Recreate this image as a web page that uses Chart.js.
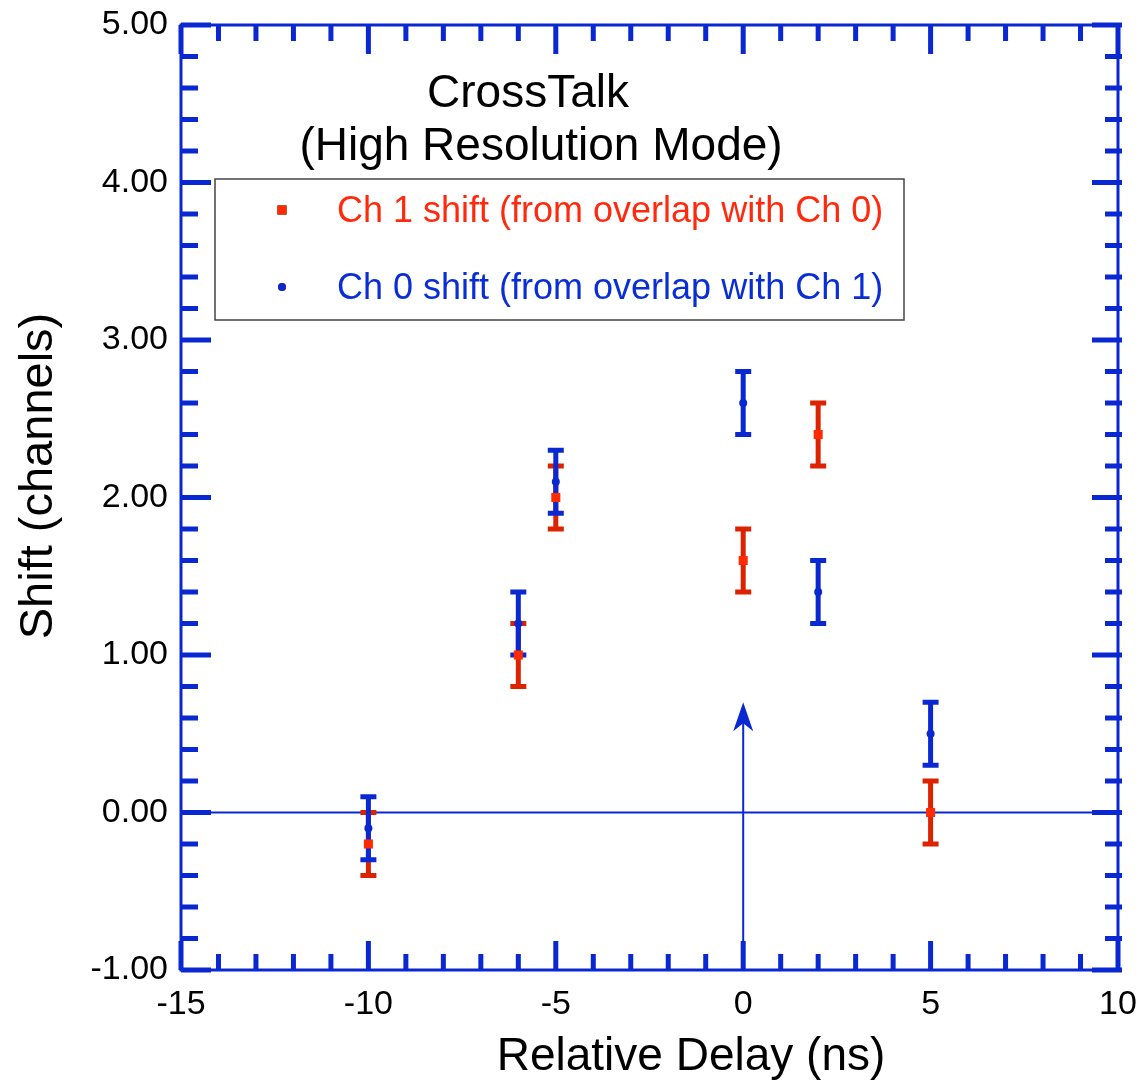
<!DOCTYPE html>
<html>
<head>
<meta charset="utf-8">
<title>CrossTalk</title>
<script src="https://cdn.jsdelivr.net/npm/chart.js@4.4.1/dist/chart.umd.min.js"></script>
<style>
  html, body { margin: 0; padding: 0; background: #fff; }
  #wrap { width: 1144px; height: 1082px; }
</style>
</head>
<body>
<div id="wrap"><canvas id="crossTalk"></canvas></div>
<script>
// shift vs. relative delay, both channels
var delays = [-10, -6, -5, 0, 2, 5];
var ch1Shift = [-0.2, 1.0, 2.0, 1.6, 2.4, 0.0];
var ch1Err = [0.2, 0.2, 0.2, 0.2, 0.2, 0.2];
var ch0Shift = [-0.1, 1.2, 2.1, 2.6, 1.4, 0.5];
var ch0Err = [0.2, 0.2, 0.2, 0.2, 0.2, 0.2];

// axis ticks
var xTicks = [-15, -10, -5, 0, 5, 10];
var yTicks = [-1, 0, 1, 2, 3, 4, 5];
var xMinorStep = 1;
var yMinorStep = 0.2;

// annotation arrow (x position, tip height)
var arrowX = 0;
var arrowTip = 0.7;

var titleLines = ['CrossTalk', '(High Resolution Mode)'];

var BLUE = '#0A28D2';
var FONT = "'Liberation Sans', Arial, Helvetica, sans-serif";

// zero line + arrow, under the data
var refLines = {
  id: 'refLines',
  beforeDatasetsDraw: function (chart) {
    var ctx = chart.ctx, a = chart.chartArea;
    var xs = chart.scales.x, ys = chart.scales.y;
    var y0 = ys.getPixelForValue(0);
    ctx.save();
    ctx.strokeStyle = BLUE;
    ctx.fillStyle = BLUE;
    ctx.lineWidth = 2;
    ctx.beginPath();
    ctx.moveTo(a.left, y0);
    ctx.lineTo(a.right, y0);
    ctx.stroke();
    var ax = xs.getPixelForValue(arrowX), tip = ys.getPixelForValue(arrowTip);
    ctx.beginPath();
    ctx.moveTo(ax, a.bottom);
    ctx.lineTo(ax, tip + 12);
    ctx.stroke();
    ctx.beginPath();
    ctx.moveTo(ax, tip);
    ctx.lineTo(ax + 10, tip + 29);
    ctx.lineTo(ax, tip + 21);
    ctx.lineTo(ax - 10, tip + 29);
    ctx.closePath();
    ctx.fill();
    ctx.restore();
  }
};

// vertical error bars with caps
var errorBars = {
  id: 'errorBars',
  beforeDatasetsDraw: function (chart) {
    var ctx = chart.ctx;
    var xs = chart.scales.x, ys = chart.scales.y;
    ctx.save();
    chart.data.datasets.forEach(function (ds) {
      ctx.strokeStyle = ds.barColor;
      ctx.lineWidth = 5;
      ds.data.forEach(function (p, i) {
        var x = xs.getPixelForValue(p.x);
        var hi = ys.getPixelForValue(p.y + ds.errors[i]);
        var lo = ys.getPixelForValue(p.y - ds.errors[i]);
        ctx.beginPath();
        ctx.moveTo(x, hi);
        ctx.lineTo(x, lo);
        ctx.moveTo(x - 8, hi);
        ctx.lineTo(x + 8, hi);
        ctx.moveTo(x - 8, lo);
        ctx.lineTo(x + 8, lo);
        ctx.stroke();
      });
    });
    ctx.restore();
  }
};

// boxed frame with inward ticks on all four sides
var frame = {
  id: 'frame',
  afterDraw: function (chart) {
    var ctx = chart.ctx, a = chart.chartArea;
    var xs = chart.scales.x, ys = chart.scales.y;
    ctx.save();
    ctx.strokeStyle = BLUE;
    ctx.lineWidth = 3;
    ctx.strokeRect(a.left, a.top, a.right - a.left, a.bottom - a.top);
    ctx.lineWidth = 5;
    var v, x, y, len, major;
    for (v = xTicks[0]; v <= xTicks[xTicks.length - 1] + 1e-9; v += xMinorStep) {
      major = xTicks.indexOf(Math.round(v)) >= 0;
      len = major ? 29 : 16;
      x = xs.getPixelForValue(v);
      ctx.beginPath();
      ctx.moveTo(x, a.top); ctx.lineTo(x, a.top + len);
      ctx.moveTo(x, a.bottom); ctx.lineTo(x, a.bottom - len);
      ctx.stroke();
    }
    var n = Math.round((yTicks[yTicks.length - 1] - yTicks[0]) / yMinorStep);
    for (var k = 0; k <= n; k++) {
      v = yTicks[0] + k * yMinorStep;
      major = k % Math.round(1 / yMinorStep) === 0;
      len = major ? 30 : 17;
      y = ys.getPixelForValue(v);
      ctx.beginPath();
      ctx.moveTo(a.left, y); ctx.lineTo(a.left + len, y);
      ctx.moveTo(a.right + 4, y); ctx.lineTo(a.right - len + 4, y);
      ctx.stroke();
    }
    ctx.restore();
  }
};

// title, axis titles and boxed legend inside the plot
var labels = {
  id: 'labels',
  afterDraw: function (chart) {
    var ctx = chart.ctx;
    ctx.save();
    ctx.fillStyle = '#000';
    ctx.textAlign = 'center';
    ctx.textBaseline = 'alphabetic';
    ctx.font = '46px ' + FONT;
    ctx.fillText(titleLines[0], 528, 107);
    ctx.fillText(titleLines[1], 541, 160);

    ctx.fillText('Relative Delay (ns)', 691, 1070);
    ctx.save();
    ctx.translate(52, 476);
    ctx.rotate(-Math.PI / 2);
    ctx.font = '47px ' + FONT;
    ctx.fillText('Shift (channels)', 0, 0);
    ctx.restore();

    // legend box
    ctx.strokeStyle = '#444';
    ctx.lineWidth = 1.5;
    ctx.strokeRect(215, 179, 689, 141);
    ctx.textAlign = 'left';
    ctx.font = '36px ' + FONT;
    var rows = [222, 299];
    chart.data.datasets.forEach(function (ds, i) {
      Chart.helpers.drawPoint(ctx, {
        pointStyle: ds.pointStyle, radius: ds.pointRadius, rotation: 0, borderWidth: 0
      }, 282, rows[i] - 12);
      ctx.fillStyle = ds.backgroundColor;
      ctx.fill();
      ctx.fillStyle = ds.textColor;
      ctx.fillText(ds.label, 337, rows[i]);
    });
    ctx.restore();
  }
};

function points(xv, yv) {
  return xv.map(function (x, i) { return { x: x, y: yv[i] }; });
}

// keep the plot box fixed; labels may overhang into the margins
function noOverhang(s) {
  s.paddingTop = 0;
  s.paddingBottom = 0;
  s.paddingLeft = 0;
  s.paddingRight = 0;
}

var ctx1 = document.getElementById('crossTalk');
var crossTalkChart = new Chart(ctx1, {
  type: 'scatter',
  data: {
    datasets: [{
      label: 'Ch 1 shift (from overlap with Ch 0)',
      data: points(delays, ch1Shift),
      errors: ch1Err,
      pointStyle: 'rect',
      pointRadius: 6.4,
      backgroundColor: '#FF2A00',
      borderWidth: 0,
      barColor: '#DD2200',
      textColor: '#FF2A0E'
    }, {
      label: 'Ch 0 shift (from overlap with Ch 1)',
      data: points(delays, ch0Shift),
      errors: ch0Err,
      pointStyle: 'circle',
      pointRadius: 4,
      backgroundColor: '#0A28D2',
      borderWidth: 0,
      barColor: '#0A28D2',
      textColor: '#0A2ED6'
    }]
  },
  options: {
    responsive: true,
    maintainAspectRatio: false,
    animation: false,
    layout: {
      padding: { top: 25, right: 26, left: 0, bottom: 0 }
    },
    plugins: {
      legend: { display: false },
      tooltip: { enabled: false }
    },
    scales: {
      x: {
        type: 'linear',
        min: -15,
        max: 10,
        grid: { display: false, drawTicks: false },
        border: { display: false },
        afterBuildTicks: function (s) { s.ticks = xTicks.map(function (v) { return { value: v }; }); },
        afterFit: function (s) { s.height = 112; noOverhang(s); },
        ticks: {
          padding: 14,
          color: '#000',
          font: { family: FONT, size: 34 }
        }
      },
      y: {
        type: 'linear',
        min: -1,
        max: 5,
        grid: { display: false, drawTicks: false },
        border: { display: false },
        afterBuildTicks: function (s) { s.ticks = yTicks.map(function (v) { return { value: v }; }); },
        afterFit: function (s) { s.width = 181; noOverhang(s); },
        ticks: {
          padding: 13,
          color: '#000',
          font: { family: FONT, size: 34 },
          callback: function (v) { return v.toFixed(2); }
        }
      }
    }
  },
  plugins: [refLines, errorBars, frame, labels]
});
</script>
</body>
</html>
